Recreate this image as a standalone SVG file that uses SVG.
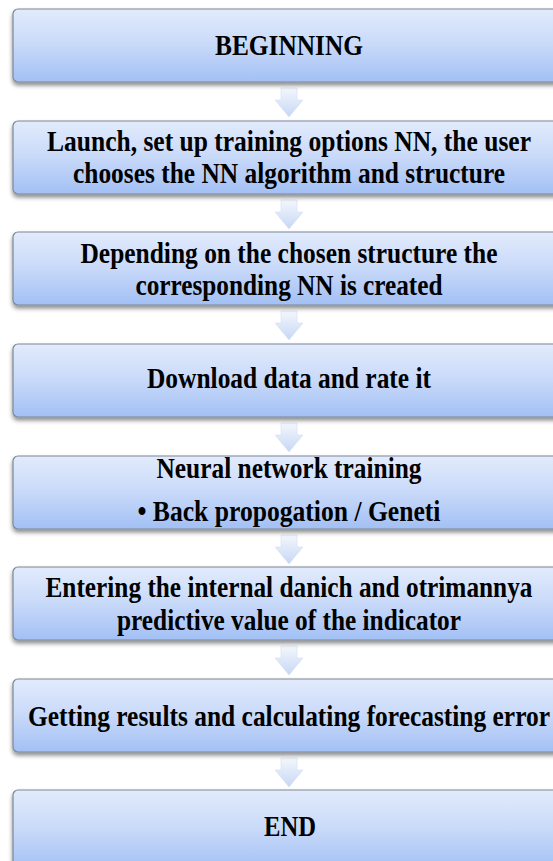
<svg xmlns="http://www.w3.org/2000/svg" width="553" height="861" viewBox="0 0 553 861">
<defs>
<linearGradient id="boxg" x1="0" y1="0" x2="0" y2="1">
<stop offset="0" stop-color="#e2ebfc"/>
<stop offset="0.5" stop-color="#c8d9f9"/>
<stop offset="1" stop-color="#a2c0f5"/>
</linearGradient>
<linearGradient id="arrg" x1="0" y1="0" x2="0" y2="1">
<stop offset="0" stop-color="#f4f7fd"/>
<stop offset="1" stop-color="#c6d7f4"/>
</linearGradient>
<filter id="sh" x="-5%" y="-20%" width="110%" height="150%">
<feDropShadow dx="0" dy="3" stdDeviation="2" flood-color="#000" flood-opacity="0.45"/>
</filter>
<path id="arrow" d="M-8,0 H8 V12 H14 L0,29 L-14,12 H-8 Z"/>
</defs>
<style>
.box{fill:url(#boxg);stroke:#7d8796;stroke-width:1.2;filter:url(#sh)}
.arr{fill:url(#arrg);stroke:#d5e0f2;stroke-width:0.6}
text{font-family:"Liberation Serif","Times New Roman",serif;font-weight:bold;font-size:25px;fill:#000;text-anchor:middle}
</style>
<rect width="553" height="861" fill="#fff"/>
<g id="connectors">
<use href="#arrow" class="arr" x="289" y="88"/>
<use href="#arrow" class="arr" x="289" y="200"/>
<use href="#arrow" class="arr" x="289" y="311"/>
<use href="#arrow" class="arr" x="289" y="423"/>
<use href="#arrow" class="arr" x="289" y="535"/>
<use href="#arrow" class="arr" x="289" y="646"/>
<use href="#arrow" class="arr" x="289" y="758"/>
</g>
<g id="n1">
<rect class="box" x="13" y="9" width="556" height="73" rx="5"/>
<text x="289" y="55" transform="matrix(1 0 0 1.2 0 -11)" textLength="148" lengthAdjust="spacingAndGlyphs">BEGINNING</text>
</g>
<g id="n2">
<rect class="box" x="13" y="121" width="556" height="73" rx="5"/>
<text x="289" y="151" transform="matrix(1 0 0 1.2 0 -30.2)" textLength="484" lengthAdjust="spacingAndGlyphs">Launch, set up training options NN, the user</text>
<text x="289" y="183" transform="matrix(1 0 0 1.2 0 -36.6)" textLength="432" lengthAdjust="spacingAndGlyphs">chooses the NN algorithm and structure</text>
</g>
<g id="n3">
<rect class="box" x="13" y="232" width="556" height="73" rx="5"/>
<text x="289" y="263" transform="matrix(1 0 0 1.2 0 -52.6)" textLength="417" lengthAdjust="spacingAndGlyphs">Depending on the chosen structure the</text>
<text x="289" y="295" transform="matrix(1 0 0 1.2 0 -59)" textLength="307" lengthAdjust="spacingAndGlyphs">corresponding NN is created</text>
</g>
<g id="n4">
<rect class="box" x="13" y="344" width="556" height="73" rx="5"/>
<text x="289" y="388" transform="matrix(1 0 0 1.2 0 -77.6)" textLength="284" lengthAdjust="spacingAndGlyphs">Download data and rate it</text>
</g>
<g id="n5">
<rect class="box" x="13" y="456" width="556" height="73" rx="5"/>
<text x="289" y="478" transform="matrix(1 0 0 1.2 0 -95.6)" textLength="265" lengthAdjust="spacingAndGlyphs">Neural network training</text>
<text x="289" y="521" transform="matrix(1 0 0 1.2 0 -104.2)" textLength="303" lengthAdjust="spacingAndGlyphs">•  Back propogation / Geneti</text>
</g>
<g id="n6">
<rect class="box" x="13" y="567" width="556" height="73" rx="5"/>
<text x="289" y="597" transform="matrix(1 0 0 1.2 0 -119.4)" textLength="487" lengthAdjust="spacingAndGlyphs">Entering the internal danich and otrimannya</text>
<text x="289" y="630" transform="matrix(1 0 0 1.2 0 -126)" textLength="344" lengthAdjust="spacingAndGlyphs">predictive value of the indicator</text>
</g>
<g id="n7">
<rect class="box" x="13" y="679" width="556" height="73" rx="5"/>
<text x="289" y="726" transform="matrix(1 0 0 1.2 0 -145.2)" textLength="522" lengthAdjust="spacingAndGlyphs">Getting results and calculating forecasting error</text>
</g>
<g id="n8">
<rect class="box" x="13" y="790" width="556" height="80" rx="5"/>
<text x="290" y="836" transform="matrix(1 0 0 1.2 0 -167.2)" textLength="52" lengthAdjust="spacingAndGlyphs">END</text>
</g>
</svg>
